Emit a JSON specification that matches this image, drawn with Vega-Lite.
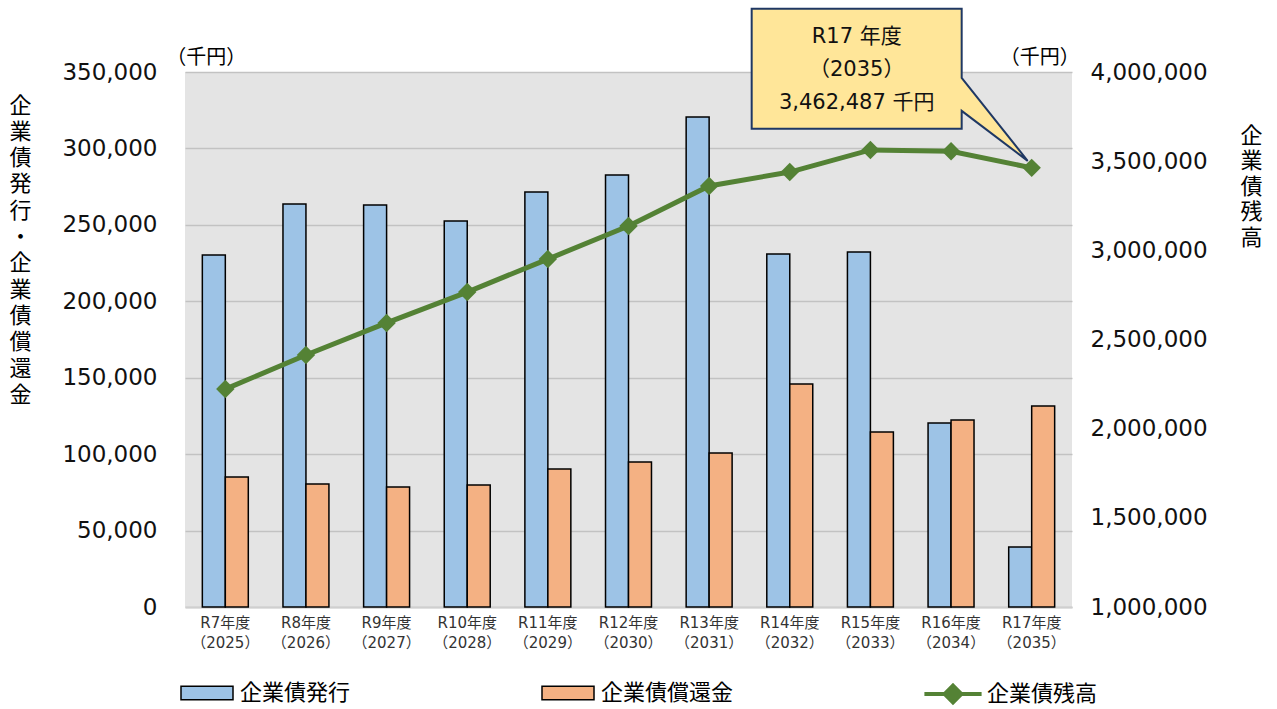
{
  "$schema": "https://vega.github.io/schema/vega-lite/v6.json",
  "width": 887,
  "height": 535,
  "autosize": {"type": "none"},
  "padding": {"top": 72, "left": 185, "right": 205, "bottom": 102},
  "background": "white",
  "config": {
    "view": {"fill": "#e4e4e4", "stroke": null},
    "font": "DejaVu Sans, Noto Sans CJK JP",
    "axis": {"labelFont": "DejaVu Sans, Noto Sans CJK JP", "titleFont": "Noto Sans CJK JP"}
  },
  "datasets": {
    "bars": [
      {"year": "R7年度|（2025）", "series": "企業債発行", "value": 230300},
      {"year": "R7年度|（2025）", "series": "企業債償還金", "value": 85000},
      {"year": "R8年度|（2026）", "series": "企業債発行", "value": 263600},
      {"year": "R8年度|（2026）", "series": "企業債償還金", "value": 80500},
      {"year": "R9年度|（2027）", "series": "企業債発行", "value": 263000},
      {"year": "R9年度|（2027）", "series": "企業債償還金", "value": 78500},
      {"year": "R10年度|（2028）", "series": "企業債発行", "value": 252500},
      {"year": "R10年度|（2028）", "series": "企業債償還金", "value": 79800},
      {"year": "R11年度|（2029）", "series": "企業債発行", "value": 271500},
      {"year": "R11年度|（2029）", "series": "企業債償還金", "value": 90300},
      {"year": "R12年度|（2030）", "series": "企業債発行", "value": 282600},
      {"year": "R12年度|（2030）", "series": "企業債償還金", "value": 94900},
      {"year": "R13年度|（2031）", "series": "企業債発行", "value": 320600},
      {"year": "R13年度|（2031）", "series": "企業債償還金", "value": 100700},
      {"year": "R14年度|（2032）", "series": "企業債発行", "value": 230900},
      {"year": "R14年度|（2032）", "series": "企業債償還金", "value": 145900},
      {"year": "R15年度|（2033）", "series": "企業債発行", "value": 232200},
      {"year": "R15年度|（2033）", "series": "企業債償還金", "value": 114500},
      {"year": "R16年度|（2034）", "series": "企業債発行", "value": 120400},
      {"year": "R16年度|（2034）", "series": "企業債償還金", "value": 122300},
      {"year": "R17年度|（2035）", "series": "企業債発行", "value": 39300},
      {"year": "R17年度|（2035）", "series": "企業債償還金", "value": 131500}
    ],
    "balance": [
      {"year": "R7年度|（2025）", "value": 2222000},
      {"year": "R8年度|（2026）", "value": 2413000},
      {"year": "R9年度|（2027）", "value": 2593000},
      {"year": "R10年度|（2028）", "value": 2766000},
      {"year": "R11年度|（2029）", "value": 2951000},
      {"year": "R12年度|（2030）", "value": 3136000},
      {"year": "R13年度|（2031）", "value": 3361000},
      {"year": "R14年度|（2032）", "value": 3439000},
      {"year": "R15年度|（2033）", "value": 3563000},
      {"year": "R16年度|（2034）", "value": 3556000},
      {"year": "R17年度|（2035）", "value": 3462487}
    ],
    "unitLeft": [{"year": "R7年度|（2025）", "value": 350000, "label": "（千円）"}],
    "unitRight": [{"year": "R17年度|（2035）", "value": 4000000, "label": "（千円）"}],
    "callout": [{"year": "R17年度|（2035）", "value": 3462487, "label": "R17 年度\n（2035）\n3,462,487 千円"}]
  },
  "encoding": {
    "x": {
      "field": "year",
      "type": "nominal",
      "sort": null,
      "scale": {
        "domain": ["R7年度|（2025）", "R8年度|（2026）", "R9年度|（2027）", "R10年度|（2028）", "R11年度|（2029）", "R12年度|（2030）", "R13年度|（2031）", "R14年度|（2032）", "R15年度|（2033）", "R16年度|（2034）", "R17年度|（2035）"],
        "paddingInner": 0.43,
        "paddingOuter": 0.215
      },
      "axis": {
        "title": null,
        "labelExpr": "split(datum.label, '|')",
        "labelAngle": 0,
        "labelFontSize": 15,
        "labelColor": "#333333",
        "labelLineHeight": 20,
        "labelPadding": 8,
        "ticks": false,
        "grid": false,
        "domainColor": "#cfcfcf",
        "domainWidth": 2
      }
    }
  },
  "layer": [
    {
      "encoding": {
        "y": {
          "field": "value",
          "type": "quantitative",
          "scale": {"domain": [0, 350000], "nice": false},
          "axis": {
            "values": [0, 50000, 100000, 150000, 200000, 250000, 300000, 350000],
            "labelExpr": "format(datum.value, ',')",
            "labelFontSize": 23,
            "labelColor": "#111111",
            "labelPadding": 28,
            "ticks": false,
            "domain": false,
            "grid": true,
            "gridColor": "#c2c2c2",
            "gridWidth": 1.5,
            "title": ["企", "業", "債", "発", "行", "・", "企", "業", "債", "償", "還", "金"],
            "titleAngle": 0,
            "titleX": -165,
            "titleY": 23,
            "titleBaseline": "top",
            "titleAlign": "center",
            "titleFontSize": 22,
            "titleLineHeight": 26.3,
            "titleFontWeight": "normal",
            "titleColor": "#000000"
          }
        }
      },
      "layer": [
        {
          "data": {"name": "bars"},
          "mark": {"type": "bar", "stroke": "#000000", "strokeWidth": 1.5},
          "encoding": {
            "xOffset": {"field": "series", "type": "nominal", "scale": {"domain": ["企業債発行", "企業債償還金"], "paddingInner": 0, "paddingOuter": 0}},
            "color": {
              "field": "series",
              "type": "nominal",
              "scale": {"domain": ["企業債発行", "企業債償還金"], "range": ["#9dc3e6", "#f4b183"]},
              "legend": {
                "title": null,
                "orient": "none",
                "legendX": -5,
                "legendY": 594,
                "direction": "horizontal",
                "symbolType": "M-1,-0.26H1V0.26H-1Z",
                "symbolSize": 2704,
                "symbolStrokeColor": "#000000",
                "symbolStrokeWidth": 1.5,
                "symbolOpacity": 1,
                "labelFontSize": 22,
                "labelFont": "Noto Sans CJK JP",
                "labelColor": "#000000",
                "labelOffset": 6,
                "labelLimit": 400,
                "columnPadding": 188
              }
            }
          }
        },
        {
          "data": {"name": "unitLeft"},
          "mark": {"type": "text", "dx": -19, "dy": -14, "fontSize": 20, "font": "Noto Sans CJK JP", "color": "#000000", "baseline": "middle", "align": "center"},
          "encoding": {
            "text": {"field": "label"}
          }
        }
      ]
    },
    {
      "encoding": {
        "y": {
          "field": "value",
          "type": "quantitative",
          "scale": {"domain": [1000000, 4000000], "nice": false, "zero": false},
          "axis": {
            "orient": "right",
            "values": [1000000, 1500000, 2000000, 2500000, 3000000, 3500000, 4000000],
            "labelExpr": "format(datum.value, ',')",
            "labelFontSize": 23,
            "labelColor": "#111111",
            "labelPadding": 18,
            "ticks": false,
            "domain": false,
            "grid": false,
            "title": ["企", "業", "債", "残", "高"],
            "titleAngle": 0,
            "titleX": 179,
            "titleY": 53,
            "titleBaseline": "top",
            "titleAlign": "center",
            "titleFontSize": 22,
            "titleLineHeight": 25.5,
            "titleFontWeight": "normal",
            "titleColor": "#000000"
          }
        }
      },
      "layer": [
        {
          "data": {"name": "balance"},
          "mark": {"type": "line", "strokeWidth": 5},
          "encoding": {
            "stroke": {
              "datum": "企業債残高",
              "type": "nominal",
              "scale": {"domain": ["企業債残高"], "range": ["#548235"]},
              "legend": {
                "title": null,
                "orient": "none",
                "legendX": 740,
                "legendY": 594,
                "direction": "horizontal",
                "symbolType": "M-1.1,0H1.1M0,-0.32L0.32,0L0,0.32L-0.32,0Z",
                "symbolSize": 2704,
                "symbolStrokeWidth": 4,
                "symbolFillColor": "#548235",
                "symbolOpacity": 1,
                "labelFontSize": 22,
                "labelFont": "Noto Sans CJK JP",
                "labelColor": "#000000",
                "labelOffset": 6,
                "labelLimit": 400
              }
            }
          }
        },
        {
          "data": {"name": "callout"},
          "mark": {"type": "point", "shape": "M-280,-159L-70,-159L-70,-90L-4,-7L-70,-57L-70,-39L-280,-39Z", "size": 4, "filled": true, "fill": "#ffe699", "stroke": "#1f3864", "strokeWidth": 2, "opacity": 1}
        },
        {
          "data": {"name": "callout"},
          "mark": {"type": "text", "dx": -175, "dy": -131, "fontSize": 21, "font": "DejaVu Sans, Noto Sans CJK JP", "color": "#111111", "baseline": "middle", "align": "center", "lineBreak": "\n", "lineHeight": 33},
          "encoding": {
            "text": {"field": "label"}
          }
        },
        {
          "data": {"name": "balance"},
          "mark": {"type": "point", "shape": "diamond", "filled": true, "fill": "#548235", "size": 340, "opacity": 1}
        },
        {
          "data": {"name": "unitRight"},
          "mark": {"type": "text", "dx": 8, "dy": -14, "fontSize": 20, "font": "Noto Sans CJK JP", "color": "#000000", "baseline": "middle", "align": "center"},
          "encoding": {
            "text": {"field": "label"}
          }
        }
      ]
    }
  ],
  "resolve": {"scale": {"y": "independent"}}
}
